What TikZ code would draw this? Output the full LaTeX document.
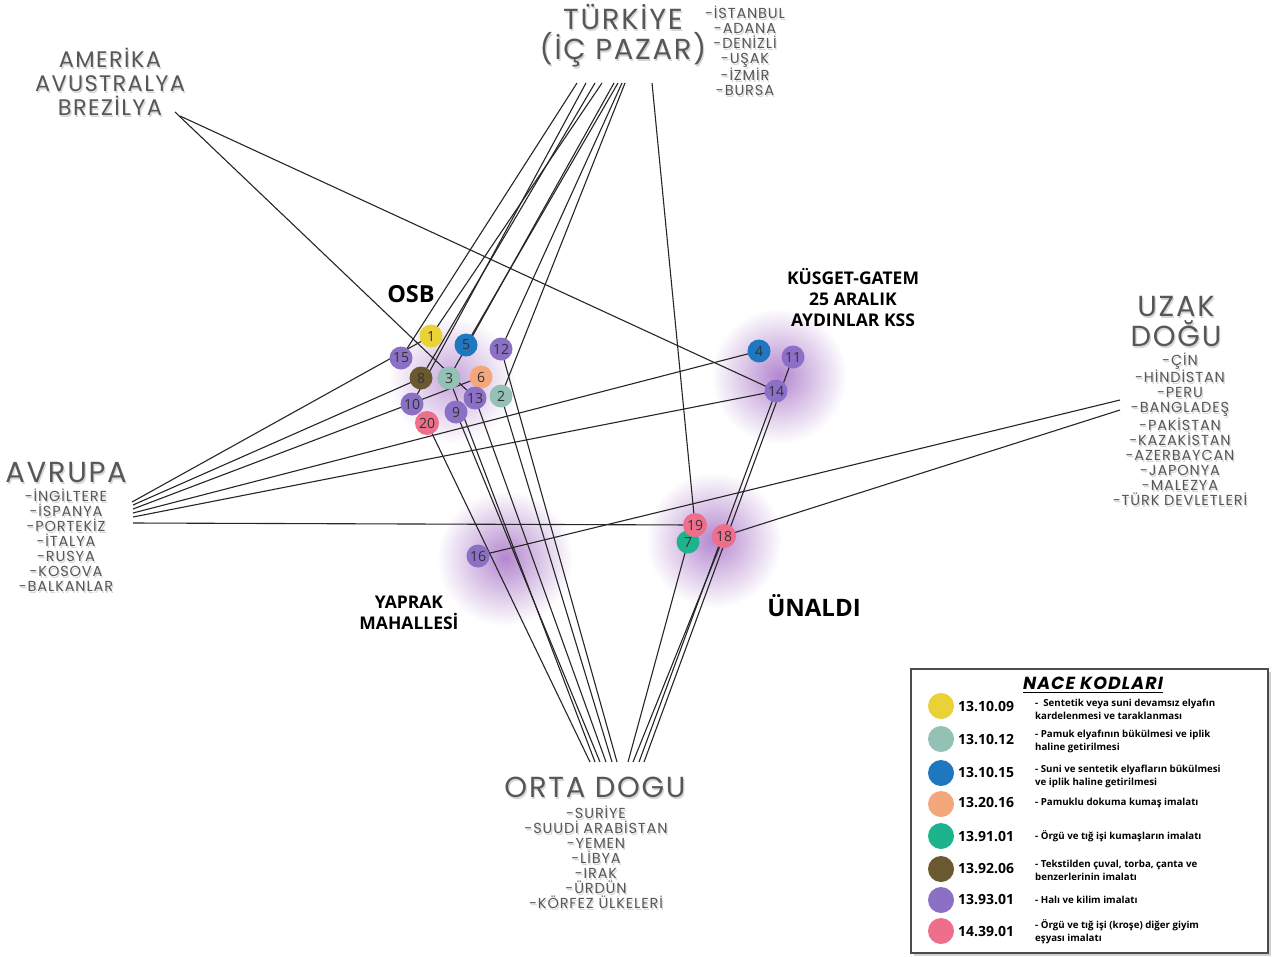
\documentclass[tikz,border=0pt]{standalone}
\usepackage{fontspec}
\setmainfont{Open Sans}
\newfontfamily\handfont[LetterSpace=6]{Poppins}
\pgfdeclarelayer{halo}
\pgfdeclarelayer{lines}
\pgfsetlayers{halo,lines,main}
\definecolor{cyellow}{HTML}{E9D136}
\definecolor{cgrayteal}{HTML}{93C2B4}
\definecolor{cblue}{HTML}{1F78BF}
\definecolor{corange}{HTML}{F3A77A}
\definecolor{cgreen}{HTML}{1DB48D}
\definecolor{cbrown}{HTML}{6A5930}
\definecolor{cpurple}{HTML}{8C70C6}
\definecolor{cpink}{HTML}{EE6F8B}
\definecolor{chalo}{HTML}{B487CF}
\definecolor{regtext}{HTML}{575757}
\newcommand\reglabel[4]{%
  \node[#2,text=black!16] at ([xshift=1.2pt,yshift=-2pt]#1) {#4};
  \node[#2,text=regtext] (#3) at (#1) {#4};}
\begin{document}
\begin{tikzpicture}[x=1pt,y=-1pt,
  conn/.style={line width=1.1pt, draw=black!85},
  dot/.style={circle, fill=#1, minimum size=23pt, inner sep=0pt,
    font=\fontsize{14}{14}\selectfont, text=black!80},
  bigdot/.style={dot=#1, minimum size=24pt},
  site/.style={font=\bfseries\fontsize{#1}{21}\selectfont, align=center, text=black, inner sep=0pt},
  regbig/.style={font=\handfont\fontsize{29}{30}\selectfont, align=center, inner sep=0pt, text depth=0pt},
  regmid/.style={font=\handfont\fontsize{22.5}{24}\selectfont, align=center, inner sep=0pt},
  regsmall/.style={font=\handfont\fontsize{14.5}{15}\selectfont, align=center, inner sep=0pt},
  legdot/.style={circle, fill=#1, minimum size=26pt, inner sep=0pt},
  legcode/.style={font=\bfseries\fontsize{14}{14}\selectfont, anchor=west, inner sep=0pt},
  legtext/.style={font=\bfseries\fontsize{9.7}{13}\selectfont, anchor=west, align=left, inner sep=0pt},
  halo/.style={inner color=chalo, outer color=white}
  ]
\useasboundingbox (0,0) rectangle (1276,956);

% background and halos
\begin{pgfonlayer}{halo}
\fill[white] (0,0) rectangle (1276,956);
\shade[inner color=chalo!75, outer color=white] (452,380) circle (64);
\shade[halo] (779,376) circle (68);
\shade[halo] (505,558) circle (68);
\shade[halo] (714,540) circle (68);
\end{pgfonlayer}

% region labels
\reglabel{623,32}{regbig}{tr}{TÜRKİYE\\(İÇ PAZAR)}
\reglabel{745,51}{regsmall}{trl}{-İSTANBUL\\-ADANA\\-DENİZLİ\\-UŞAK\\-İZMİR\\-BURSA}
\reglabel{110,82}{regmid}{am}{AMERİKA\\AVUSTRALYA\\BREZİLYA}
\reglabel{66,472}{regbig}{av}{AVRUPA}
\reglabel{66,540}{regsmall}{avl}{-İNGİLTERE\\-İSPANYA\\-PORTEKİZ\\-İTALYA\\-RUSYA\\-KOSOVA\\-BALKANLAR}
\reglabel{1176,321}{regbig}{uz}{UZAK\\DOĞU}
\reglabel{1180,429}{regsmall}{uzl}{-ÇİN\\-HİNDİSTAN\\-PERU\\-BANGLADEŞ\\-PAKİSTAN\\-KAZAKİSTAN\\-AZERBAYCAN\\-JAPONYA\\-MALEZYA\\-TÜRK DEVLETLERİ}
\reglabel{595,787}{regbig}{od}{ORTA DOGU}
\reglabel{596,857}{regsmall}{odl}{-SURİYE\\-SUUDİ ARABİSTAN\\-YEMEN\\-LİBYA\\-IRAK\\-ÜRDÜN\\-KÖRFEZ ÜLKELERİ}

% site labels
\node[site=23.5] (osb) at (411,294) {OSB};
\node[site=17.5] (kus) at (853,298) {KÜSGET-GATEM\\25 ARALIK\\AYDINLAR KSS};
\node[site=17.5] (yap) at (409,613) {YAPRAK\\MAHALLESİ};
\node[site=24] (una) at (814,606) {ÜNALDI};

% enterprise nodes
\node[dot=cyellow] (n1) at (431,336) {1};
\node[dot=cblue] (n5) at (466,345) {5};
\node[dot=cpurple] (n12) at (501,349) {12};
\node[dot=cpurple] (n15) at (401,358) {15};
\node[dot=cbrown] (n8) at (421,378) {8};
\node[dot=cgrayteal] (n3) at (449,378) {3};
\node[dot=corange] (n6) at (481,377) {6};
\node[dot=cpurple] (n13) at (475,398) {13};
\node[dot=cgrayteal] (n2) at (501,396) {2};
\node[dot=cpurple] (n10) at (412,404) {10};
\node[dot=cpurple] (n9) at (456,412) {9};
\node[bigdot=cpink] (n20) at (427,423) {20};
\node[dot=cblue] (n4) at (759,351) {4};
\node[dot=cpurple] (n11) at (793,357) {11};
\node[dot=cpurple] (n14) at (776,391) {14};
\node[dot=cgreen] (n7) at (688,542) {7};
\node[bigdot=cpink] (n19) at (695,525) {19};
\node[bigdot=cpink] (n18) at (724,536) {18};
\node[dot=cpurple] (n16) at (478,556) {16};

% line ends at the regions
\coordinate (T1) at (577,83);
\coordinate (T2) at (586,83);
\coordinate (T3) at (595,83);
\coordinate (T4) at (602,83);
\coordinate (T5) at (614,83);
\coordinate (T6) at (618,83);
\coordinate (T7) at (622,83);
\coordinate (T8) at (625,83);
\coordinate (T9) at (652,83);
\coordinate (A1) at (175,112);
\coordinate (A2) at (180,116);
\coordinate (E1) at (132,502);
\coordinate (E2) at (133,505);
\coordinate (E3) at (133,509);
\coordinate (E4) at (133,513);
\coordinate (E5) at (133,517);
\coordinate (E6) at (133,523);
\coordinate (U1) at (1120,400);
\coordinate (U2) at (1120,410);
\coordinate (O1) at (590,762);
\coordinate (O2) at (595,762);
\coordinate (O3) at (600,762);
\coordinate (O4) at (606,762);
\coordinate (O5) at (612,762);
\coordinate (O6) at (617,762);
\coordinate (O7) at (628,762);
\coordinate (O8) at (633,762);
\coordinate (O9) at (639,762);
\coordinate (O10) at (644,762);

\begin{pgfonlayer}{lines}
% Turkiye
\draw[conn] (T1) -- (n15.center);
\draw[conn] (T2) -- (n10.center);
\draw[conn] (T3) -- (n8.center);
\draw[conn] (T4) -- (n1.center);
\draw[conn] (T5) -- (n3.center);
\draw[conn] (T6) -- (n5.center);
\draw[conn] (T7) -- (n12.center);
\draw[conn] (T8) -- (n2.center);
\draw[conn] (T9) -- (n19.center);
% Amerika
\draw[conn] (A1) -- (n13.center);
\draw[conn] (A2) -- (n14.center);
% Avrupa
\draw[conn] (E1) -- (n1.center);
\draw[conn] (E2) -- (n8.center);
\draw[conn] (E3) -- (n6.center);
\draw[conn] (E4) -- (n4.center);
\draw[conn] (E5) -- (n14.center);
\draw[conn] (E6) -- (n19.center);
% Uzak Dogu
\draw[conn] (U1) -- (n16.center);
\draw[conn] (U2) -- (n18.center);
% Orta Dogu
\draw[conn] (O1) -- (n20.center);
\draw[conn] (O2) -- (n3.center);
\draw[conn] (O3) -- (n9.center);
\draw[conn] (O4) -- (n13.center);
\draw[conn] (O5) -- (n2.center);
\draw[conn] (O6) -- (n12.center);
\draw[conn] (O7) -- (n7.center);
\draw[conn] (O8) -- (n18.center);
\draw[conn] (O9) -- (n14.center);
\draw[conn] (O10) -- (n11.center);
\end{pgfonlayer}

% legend
\fill[black!18] (914,672) rectangle (1271,956);
\draw[line width=2pt, draw=black!70, fill=white] (911,669) rectangle (1268,953);
\node[font=\handfont\bfseries\itshape\fontsize{17.5}{17.5}\selectfont, inner sep=0pt] (legt) at (1093,683) {NACE KODLARI};
\draw[line width=1pt] ([yshift=-3pt]legt.south west) -- ([yshift=-3pt]legt.south east);
\node[legdot=cyellow] (l1) at (941,706) {};
\node[legdot=cgrayteal] (l2) at (941,739) {};
\node[legdot=cblue] (l3) at (941,773) {};
\node[legdot=corange] (l4) at (941,804) {};
\node[legdot=cgreen] (l5) at (941,836) {};
\node[legdot=cbrown] (l6) at (941,869) {};
\node[legdot=cpurple] (l7) at (941,900) {};
\node[legdot=cpink] (l8) at (941,931) {};
\node[legcode] (c1) at (958,707) {13.10.09};
\node[legcode] (c2) at (958,740) {13.10.12};
\node[legcode] (c3) at (958,773) {13.10.15};
\node[legcode] (c4) at (958,803) {13.20.16};
\node[legcode] (c5) at (958,837) {13.91.01};
\node[legcode] (c6) at (958,869) {13.92.06};
\node[legcode] (c7) at (958,900) {13.93.01};
\node[legcode] (c8) at (958,932) {14.39.01};
\node[legtext] (d1) at (1035,709) {-\ \ Sentetik veya suni devamsız elyafın\\kardelenmesi ve taraklanması};
\node[legtext] (d2) at (1035,741) {- Pamuk elyafının bükülmesi ve iplik\\haline getirilmesi};
\node[legtext] (d3) at (1035,776) {- Suni ve sentetik elyafların bükülmesi\\ve iplik haline getirilmesi};
\node[legtext] (d4) at (1035,803) {- Pamuklu dokuma kumaş imalatı};
\node[legtext] (d5) at (1035,836) {- Örgü ve tığ işi kumaşların imalatı};
\node[legtext] (d6) at (1035,870) {- Tekstilden çuval, torba, çanta ve\\benzerlerinin imalatı};
\node[legtext] (d7) at (1035,900) {- Halı ve kilim imalatı};
\node[legtext] (d8) at (1035,932) {- Örgü ve tığ işi (kroşe) diğer giyim\\eşyası imalatı};
\end{tikzpicture}
\end{document}
